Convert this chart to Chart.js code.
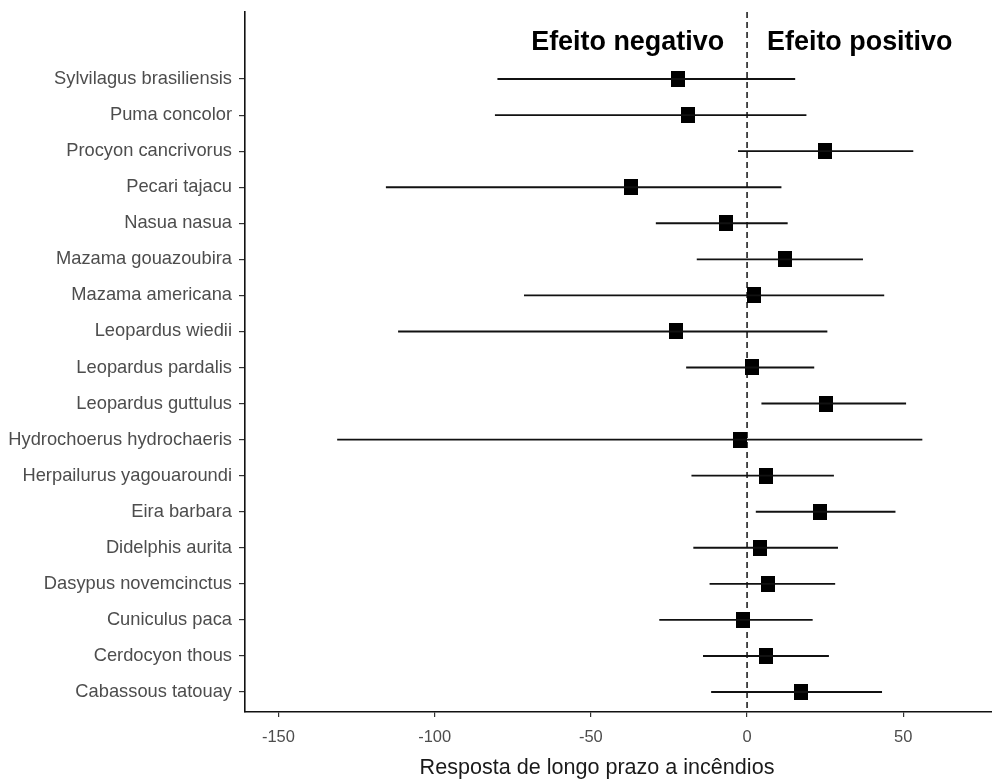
<!DOCTYPE html>
<html><head><meta charset="utf-8">
<script src="https://cdn.jsdelivr.net/npm/chart.js@4/dist/chart.umd.min.js"></script>
<style>html,body{margin:0;padding:0;background:#fff;overflow:hidden;width:992px;height:781px}#wrap{width:992px;height:781px;position:relative}canvas{display:block}</style>
</head><body><div id="wrap"><canvas id="c"></canvas></div>
<script>
// ---- data (top to bottom) ----
const species = ["Sylvilagus brasiliensis","Puma concolor","Procyon cancrivorus","Pecari tajacu","Nasua nasua","Mazama gouazoubira","Mazama americana","Leopardus wiedii","Leopardus pardalis","Leopardus guttulus","Hydrochoerus hydrochaeris","Herpailurus yagouaroundi","Eira barbara","Didelphis aurita","Dasypus novemcinctus","Cuniculus paca","Cerdocyon thous","Cabassous tatouay"];
const estimate = [-22.1,-19.0,25.0,-37.0,-6.8,12.3,2.1,-22.7,1.5,25.3,-2.3,6.0,23.5,4.0,6.7,-1.4,6.0,17.3];
const lower    = [-79.9,-80.7,-2.9,-115.6,-29.2,-16.1,-71.4,-111.7,-19.5,4.6,-131.2,-17.8,2.8,-17.2,-12.0,-28.1,-14.1,-11.5];
const upper    = [15.4,19.0,53.2,11.0,13.0,37.1,43.9,25.7,21.5,50.9,56.1,27.8,47.5,29.1,28.2,21.0,26.2,43.2];
const xTickValues = [-150,-100,-50,0,50];
const headerLabels = ["Efeito negativo","Efeito positivo"];
const xTitle = "Resposta de longo prazo a incêndios";

const FONT = `"Liberation Sans", Arial, sans-serif`;
const mctx = document.createElement('canvas').getContext('2d');
function fit(text, weight, target){
  mctx.font = `${weight} 100px ${FONT}`;
  return 100 * target / mctx.measureText(text).width;
}
const labelSize  = fit('Hydrochoerus hydrochaeris', 'normal', 224);
const tickSize   = fit('-150', 'normal', 33);
const titleSize  = fit(xTitle, 'normal', 355);
const headerSize = fit(headerLabels[0], 'bold', 193);

// square marker
const sq = document.createElement('canvas');
sq.width = 14; sq.height = 16;
(function(){const g=sq.getContext('2d');g.fillStyle='#000';g.fillRect(0,0,14,16);})();

const datasets = [];
species.forEach((s,i)=>{
  datasets.push({
    type:'line', data:[{x:lower[i],y:i},{x:upper[i],y:i}],
    borderColor:'#111', borderWidth:1.9, pointRadius:0, pointHoverRadius:0, fill:false
  });
});
datasets.push({
  type:'line', data:[{x:0,y:-1.86},{x:0,y:17.555}],
  borderColor:'#000', borderWidth:1.4, borderDash:[6,4], pointRadius:0, fill:false
});
datasets.push({
  type:'scatter', data: estimate.map((v,i)=>({x:v,y:i})),
  pointStyle: sq, pointRadius:8, pointHoverRadius:8, backgroundColor:'#000', borderColor:'#000'
});

const textPlugin = {
  id:'texts',
  afterDatasetsDraw(chart){
    const ctx = chart.ctx, xs = chart.scales.x;
    const x0 = xs.getPixelForValue(0);
    ctx.save();
    ctx.fillStyle = '#000';
    ctx.font = `bold ${headerSize}px ${FONT}`;
    ctx.textBaseline = 'alphabetic';
    ctx.textAlign = 'right';
    ctx.fillText(headerLabels[0], x0 - 23, 50);
    ctx.textAlign = 'left';
    ctx.fillText(headerLabels[1], x0 + 20, 50);
    // x axis title
    ctx.fillStyle = '#1a1a1a';
    ctx.font = `${titleSize}px ${FONT}`;
    ctx.textAlign = 'center';
    ctx.textBaseline = 'middle';
    ctx.fillText(xTitle, 597, 768);
    ctx.restore();
  }
};

const chart = new Chart(document.getElementById('c'), {
  data: { datasets },
  options: {
    responsive:true, maintainAspectRatio:false, animation:false,
    layout:{ padding:{ top:12, right:0, left:0, bottom:0 } },
    plugins:{ legend:{display:false}, tooltip:{enabled:false} },
    scales:{
      x:{
        type:'linear', min:-160.7, max:78.4,
        afterBuildTicks(ax){ ax.ticks = xTickValues.map(v=>({value:v})); },
        afterFit(ax){ ax.height = 69; ax.paddingLeft = 0; ax.paddingRight = 0; },
        grid:{ display:true, drawOnChartArea:false, drawTicks:true, tickLength:5, color:'#333', lineWidth:1.2 },
        border:{ display:true, color:'#111', width:1.6 },
        ticks:{ color:'#4d4d4d', font:{ family:FONT, size:tickSize }, padding:11, maxRotation:0 },
        title:{ display:false }
      },
      y:{
        type:'linear', reverse:true, min:-1.86, max:17.555,
        afterBuildTicks(ax){ ax.ticks = species.map((s,i)=>({value:i})); },
        afterFit(ax){ ax.width = 245; ax.paddingTop = 0; ax.paddingBottom = 0; ax.paddingLeft = 0; ax.paddingRight = 0; },
        grid:{ display:true, drawOnChartArea:false, drawTicks:true, tickLength:6, color:'#333', lineWidth:1.2 },
        border:{ display:true, color:'#111', width:1.6 },
        ticks:{ color:'#4d4d4d', font:{ family:FONT, size:labelSize }, padding:7, autoSkip:false,
          callback:(v)=> species[v] ?? '' }
      }
    }
  },
  plugins:[textPlugin]
});
// extend the canvas so the plot panel reaches the right edge of the page
const gap = 992 - chart.chartArea.right;
if (gap > 0.5) {
  document.getElementById('wrap').style.width = (992 + gap) + 'px';
  chart.resize();
}
</script></body></html>
